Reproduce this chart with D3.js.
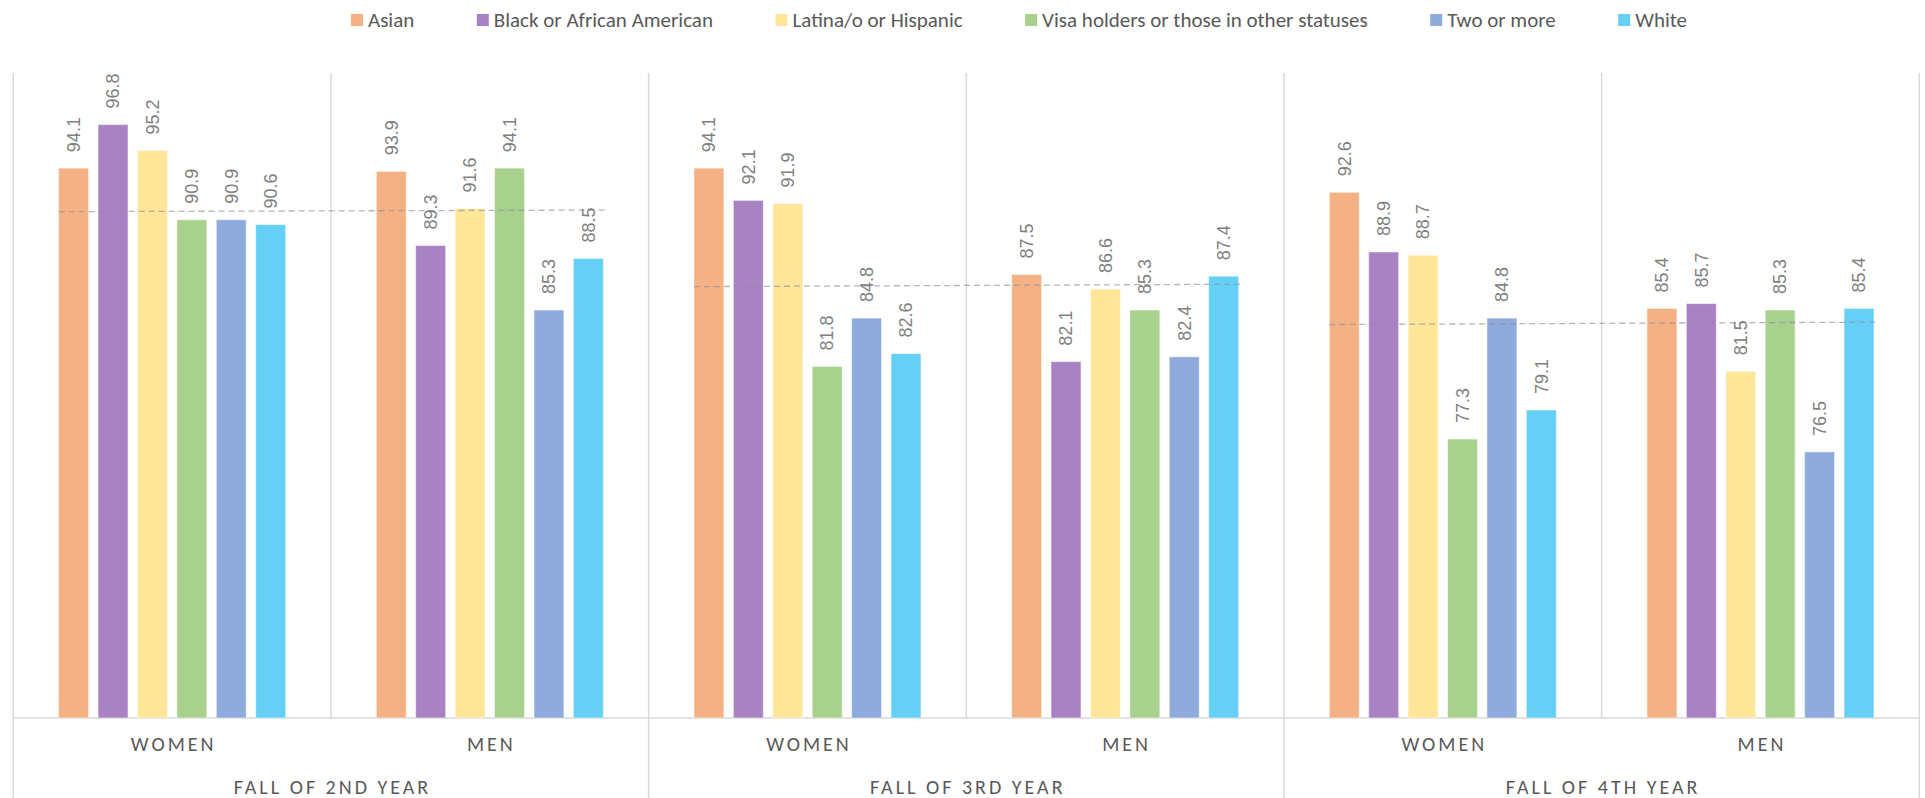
<!DOCTYPE html>
<html>
<head>
<meta charset="utf-8">
<script src="https://cdn.jsdelivr.net/npm/d3@7"></script>
<style>
  html, body { margin: 0; padding: 0; background: #fff; }
  svg { display: block; }
</style>
</head>
<body>
<svg id="chart" width="1925" height="798"></svg>
<script>
// ---- data ----
const years = ["FALL OF 2ND YEAR", "FALL OF 3RD YEAR", "FALL OF 4TH YEAR"];
const genders = ["WOMEN", "MEN"];
const seriesNames = ["Asian", "Black or African American", "Latina/o or Hispanic",
  "Visa holders or those in other statuses", "Two or more", "White"];
const seriesColors = ["#F4B183", "#A982C4", "#FFE699", "#A9D18E", "#8FAADC", "#66CFF5"];
// values per series, in order: 2nd W, 2nd M, 3rd W, 3rd M, 4th W, 4th M
const asian  = [94.1, 93.9, 94.1, 87.5, 92.6, 85.4];
const black  = [96.8, 89.3, 92.1, 82.1, 88.9, 85.7];
const latina = [95.2, 91.6, 91.9, 86.6, 88.7, 81.5];
const visa   = [90.9, 94.1, 81.8, 85.3, 77.3, 85.3];
const twoMore= [90.9, 85.3, 84.8, 82.4, 84.8, 76.5];
const white  = [90.6, 88.5, 82.6, 87.4, 79.1, 85.4];
// overall reference (dashed) line per year: start value, end value
const overallStart = [91.4, 86.75, 84.4];
const overallEnd   = [91.5, 86.9, 84.55];
const yDomain = [60, 100];

const seriesValues = [asian, black, latina, visa, twoMore, white];

// ---- layout ----
const svg = d3.select("#chart");
const pLeft = 13.3, pRight = 1919.3, pTop = 73, pBase = 718, pBottom = 798;
const gridColor = "#d9d9d9";

const groups = [];
years.forEach((yr, yi) => genders.forEach((g, gi) => groups.push({ key: yr + "|" + g, year: yr, yi, gender: g, gi })));

const x0 = d3.scaleBand().domain(groups.map(d => d.key)).range([pLeft, pRight]).padding(0);
const xYear = d3.scaleBand().domain(years).range([pLeft, pRight]).padding(0);
const x1 = d3.scaleBand().domain(seriesNames).range([0, x0.bandwidth()]).paddingInner(0.24).paddingOuter(1.15);
const y = d3.scaleLinear().domain(yDomain).range([pBase, pTop]);

// ---- grid / separators ----
const sep = svg.append("g");
[pLeft, ...years.slice(1).map(yr => xYear(yr)), pRight].forEach(xv => {
  sep.append("line").attr("x1", xv).attr("x2", xv).attr("y1", pTop).attr("y2", pBottom)
    .attr("stroke", gridColor).attr("stroke-width", 1.5);
});
years.forEach(yr => {
  const xv = x0(yr + "|MEN");
  sep.append("line").attr("x1", xv).attr("x2", xv).attr("y1", pTop).attr("y2", pBase)
    .attr("stroke", gridColor).attr("stroke-width", 1.5);
});
sep.append("line").attr("x1", pLeft).attr("x2", pRight).attr("y1", pBase).attr("y2", pBase)
  .attr("stroke", gridColor).attr("stroke-width", 1.5);

// ---- bars ----
const barData = [];
groups.forEach((g, gi) => seriesNames.forEach((s, si) => barData.push({ g, s, si, v: seriesValues[si][gi] })));

svg.append("g").selectAll("rect").data(barData).join("rect")
  .attr("x", d => x0(d.g.key) + x1(d.s))
  .attr("width", x1.bandwidth())
  .attr("y", d => y(d.v))
  .attr("height", d => y(yDomain[0]) - y(d.v))
  .attr("fill", d => seriesColors[d.si])
  .attr("stroke", "#ffffff").attr("stroke-opacity", 0.5).attr("stroke-width", 1);

// ---- dashed overall lines ----
const lines = svg.append("g");
years.forEach((yr, yi) => {
  const xs = x0(yr + "|WOMEN") + x1(seriesNames[0]);
  const xe = x0(yr + "|MEN") + x1(seriesNames[5]) + x1.bandwidth() + 4;
  lines.append("line")
    .attr("x1", xs).attr("x2", xe)
    .attr("y1", y(overallStart[yi])).attr("y2", y(overallEnd[yi]))
    .attr("stroke", "#8c8c9c").attr("stroke-opacity", 0.65)
    .attr("stroke-width", 1.3).attr("stroke-dasharray", "6,4");
});

// ---- value labels ----
svg.append("g").selectAll("text").data(barData).join("text")
  .attr("transform", d => {
    const cx = x0(d.g.key) + x1(d.s) + x1.bandwidth() / 2;
    return `translate(${cx},${y(d.v) - 16}) rotate(-90)`;
  })
  .attr("dy", "0.35em")
  .attr("text-anchor", "start")
  .attr("font-family", "'Liberation Sans', Arial, sans-serif")
  .attr("font-size", 18)
  .attr("fill", "#808080")
  .text(d => d.v.toFixed(1));

// ---- category axis labels ----
const axisFont = "Carlito, 'Liberation Sans Narrow', 'Open Sans', sans-serif";
const axisG = svg.append("g");
axisG.selectAll("text.gender").data(groups).join("text")
  .attr("class", "gender")
  .attr("x", d => x0(d.key) + x0.bandwidth() / 2 + 1.5)
  .attr("y", 751)
  .attr("text-anchor", "middle")
  .attr("font-family", axisFont)
  .attr("font-size", 20)
  .attr("letter-spacing", 3)
  .attr("fill", "#595959")
  .text(d => d.gender);
axisG.selectAll("text.year").data(years).join("text")
  .attr("class", "year")
  .attr("x", d => xYear(d) + xYear.bandwidth() / 2 + 1.5)
  .attr("y", 794)
  .attr("text-anchor", "middle")
  .attr("font-family", axisFont)
  .attr("font-size", 20)
  .attr("letter-spacing", 3)
  .attr("fill", "#595959")
  .text(d => d);

// ---- legend (equal gaps between entries, spanning the measured extent) ----
const legStart = 351, legEnd = 1687, sq = 12, txtOff = 17;
const legG = svg.append("g");
const items = legG.selectAll("g").data(seriesNames).join("g");
items.append("rect").attr("x", 0).attr("y", -6).attr("width", sq).attr("height", sq)
  .attr("fill", (d, i) => seriesColors[i]);
items.append("text").attr("x", txtOff).attr("y", 0).attr("dy", "0.35em")
  .attr("font-family", axisFont).attr("font-size", 21).attr("fill", "#595959")
  .text(d => d);
const widths = [];
items.select("text").each(function () { widths.push(this.getComputedTextLength()); });
const gap = (legEnd - legStart - d3.sum(widths) - txtOff * seriesNames.length) / (seriesNames.length - 1);
let cur = legStart;
items.attr("transform", (d, i) => {
  const t = `translate(${cur},20)`;
  cur += txtOff + widths[i] + gap;
  return t;
});
</script>
</body>
</html>
